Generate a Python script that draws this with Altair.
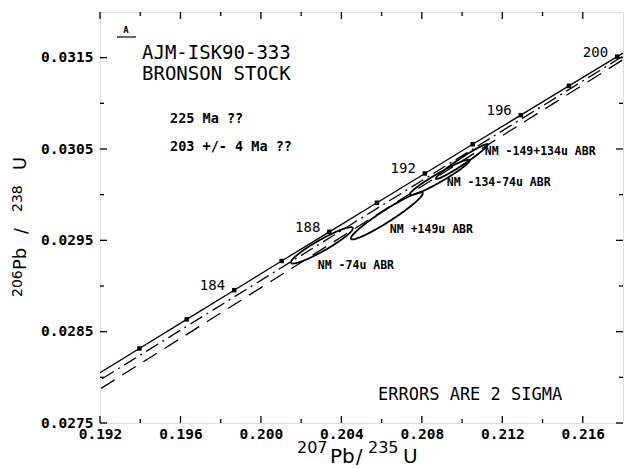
import altair as alt
import pandas as pd
import numpy as np

# ---------------- data ----------------
# Concordia: ages (Ma) and ratios of the tick marks
ages = [178, 180, 182, 184, 186, 188, 190, 192, 194, 196, 198, 200, 202]
conc_x = [0.19161, 0.19396, 0.19631, 0.19867, 0.20103, 0.20340, 0.20577,
          0.20815, 0.21053, 0.21292, 0.21531, 0.21771, 0.22011]
conc_y = [0.027997, 0.028316, 0.028635, 0.028954, 0.029274, 0.029593, 0.029912,
          0.030232, 0.030552, 0.030871, 0.031191, 0.031511, 0.031831]
labeled_ages = [184, 188, 192, 196, 200]

# Error ellipses (2 sigma): centre, half-widths, correlation
ell_names = ["NM -74u ABR", "NM +149u ABR", "NM -134-74u ABR", "NM -149+134u ABR"]
ell_x = [0.20303, 0.20626, 0.20889, 0.20999]
ell_y = [0.029445, 0.029768, 0.030189, 0.030363]
ell_sx = [0.00154, 0.00179, 0.00149, 0.00129]
ell_sy = [0.000199, 0.000258, 0.000194, 0.000191]
ell_rho = [0.934, 0.955, 0.960, 0.973]
ell_label_x = [0.20283, 0.20641, 0.20924, 0.21113]
ell_label_y = [0.029216, 0.029609, 0.030123, 0.030462]

# Two reference (discordia) lines, end points
disc_names = ["dashdot", "dash"]
disc_x = [[0.191, 0.219], [0.191, 0.219]]
disc_y = [[0.027834, 0.031654], [0.027733, 0.031617]]

# Axis ticks
x_labels = [0.192, 0.196, 0.200, 0.204, 0.208, 0.212, 0.216]
x_minor = [0.194, 0.198, 0.202, 0.206, 0.210, 0.214]
y_labels = [0.0275, 0.0285, 0.0295, 0.0305, 0.0315]
y_minor = [0.0280, 0.0290, 0.0300, 0.0310]

X_DOM = [0.192, 0.218]
Y_DOM = [0.0275, 0.032]
W, H = 523, 411
MONO = "DejaVu Sans Mono"
SANS = "DejaVu Sans"

xs = alt.Scale(domain=X_DOM, nice=False, zero=False)
ys = alt.Scale(domain=Y_DOM, nice=False, zero=False)

AX = alt.Axis(values=x_labels, format=".3f", labelFont=MONO, labelFontSize=14.5,
              labelColor="black", ticks=False, domain=False, grid=False, labelFlush=False,
              labelPadding=4, title=None, labelFontWeight="bold")
AY = alt.Axis(values=y_labels, format=".4f", labelFont=MONO, labelFontSize=14.5,
              labelColor="black", ticks=False, domain=False, grid=False, labelFlush=False,
              labelPadding=7, title=None, labelFontWeight="bold")

def X(f):
    return alt.X(f, scale=xs, axis=AX)

def Y(f):
    return alt.Y(f, scale=ys, axis=AY)

# ---------------- tables ----------------
conc_df = pd.DataFrame({"age": ages, "x": conc_x, "y": conc_y})
lab_df = conc_df[conc_df["age"].isin(labeled_ages)]

rows = []
theta = np.linspace(0, 2 * np.pi, 181)
for n, cx, cy, sx, sy, r in zip(ell_names, ell_x, ell_y, ell_sx, ell_sy, ell_rho):
    for i, t in enumerate(theta):
        rows.append({"name": n, "i": i,
                     "x": cx + sx * np.cos(t),
                     "y": cy + sy * (r * np.cos(t) + np.sqrt(1 - r * r) * np.sin(t))})
ell_df = pd.DataFrame(rows)
ell_lab_df = pd.DataFrame({"name": ell_names, "x": ell_label_x, "y": ell_label_y})

def disc_df(k):
    return pd.DataFrame({"x": disc_x[k], "y": disc_y[k], "i": [0, 1]})

# ---------------- layers ----------------
concordia = alt.Chart(conc_df).mark_line(color="black", strokeWidth=1.3, clip=True).encode(
    x=X("x:Q"), y=Y("y:Q"), order="age:Q")

markers = alt.Chart(conc_df).mark_point(shape="square", filled=True, size=20,
                                         color="black", opacity=1, clip=True).encode(
    x=X("x:Q"), y=Y("y:Q"))

age_labels = alt.Chart(lab_df).mark_text(align="right", baseline="middle", dx=-9, dy=-4,
                                         font=MONO, fontSize=14, color="black").encode(
    x=X("x:Q"), y=Y("y:Q"), text=alt.Text("age:Q", format="d"))

d1 = alt.Chart(disc_df(0)).mark_line(color="black", strokeWidth=1.3, strokeDash=[14, 5, 2, 5],
                                     clip=True).encode(x=X("x:Q"), y=Y("y:Q"), order="i:Q")
d2 = alt.Chart(disc_df(1)).mark_line(color="black", strokeWidth=1.3, strokeDash=[16, 9],
                                     clip=True).encode(x=X("x:Q"), y=Y("y:Q"), order="i:Q")

ellipses = alt.Chart(ell_df).mark_line(color="black", strokeWidth=1.8, clip=True).encode(
    x=X("x:Q"), y=Y("y:Q"), detail="name:N", order="i:Q")

ell_labels = alt.Chart(ell_lab_df).mark_text(align="left", baseline="middle", font=MONO,
                                             fontSize=11.5, fontWeight="bold", color="black").encode(
    x=X("x:Q"), y=Y("y:Q"), text="name:N")

# inside ticks on all four sides
def xticks(vals, length, top):
    df = pd.DataFrame({"x": vals})
    y0, y1 = (0, length) if top else (H, H - length)
    return alt.Chart(df).mark_rule(color="black", strokeWidth=1.3).encode(
        x=X("x:Q"), y=alt.value(y0), y2=alt.value(y1))

def yticks(vals, length, right):
    df = pd.DataFrame({"y": vals})
    x0, x1 = (W, W - length) if right else (0, length)
    return alt.Chart(df).mark_rule(color="black", strokeWidth=1.3).encode(
        y=Y("y:Q"), x=alt.value(x0), x2=alt.value(x1))

ticks = [xticks(x_labels, 7, False), xticks(x_minor, 4, False),
         xticks(x_labels, 7, True), xticks(x_minor, 4, True),
         yticks(y_labels, 7, False), yticks(y_minor, 4, False),
         yticks(y_labels, 7, True), yticks(y_minor, 4, True)]

# text annotations (pixel positions inside the chart)
def txt(s, px, py, size, font=MONO, weight="normal", align="left", angle=0, baseline="alphabetic"):
    kw = dict(align=align, baseline=baseline, font=font, fontSize=size, fontWeight=weight,
              color="black", text=s)
    if angle:
        kw["angle"] = angle
    return alt.Chart(pd.DataFrame({"a": [0]})).mark_text(**kw).encode(
        x=alt.value(px), y=alt.value(py))

annots = [
    txt("A", 26, 21, 9, weight="bold", align="center"),
    alt.Chart(pd.DataFrame({"a": [0]})).mark_rule(color="black", strokeWidth=1.2).encode(
        x=alt.value(17), x2=alt.value(36), y=alt.value(25)),
    txt("AJM-ISK90-333", 42, 47, 19),
    txt("BRONSON STOCK", 42, 68, 19),
    txt("225 Ma ??", 70, 111, 13.5, weight="bold"),
    txt("203 +/- 4 Ma ??", 70, 139, 13.5, weight="bold"),
    txt("ERRORS ARE 2 SIGMA", 278, 388, 17),
    # x axis title 207Pb/235U
    txt("207", 197, 441, 16, font=SANS),
    txt("Pb", 230, 451, 20, font=SANS),
    txt("/", 256, 451, 19, font=SANS),
    txt("235", 268, 441, 16, font=SANS),
    txt("U", 303, 451, 20, font=SANS),
    # y axis title 206Pb/238U (rotated)
    txt("206", -78, 285, 14, font=SANS, angle=270),
    txt("Pb", -74, 258, 18, font=SANS, angle=270),
    txt("/", -73, 222, 17, font=SANS, angle=270),
    txt("238", -78, 200, 14, font=SANS, angle=270),
    txt("U", -74, 158, 18, font=SANS, angle=270),
]

chart = alt.layer(concordia, d1, d2, ellipses, markers, age_labels, ell_labels,
                  *ticks, *annots).properties(
    width=W, height=H,
    padding={"left": 92, "top": 4, "right": 2, "bottom": 45},
    autosize=alt.AutoSizeParams(type="none"),
).configure_view(stroke="black", strokeWidth=1.6).configure(background="white")

chart.save("out.html", embed_options={"renderer": "svg", "actions": False})
